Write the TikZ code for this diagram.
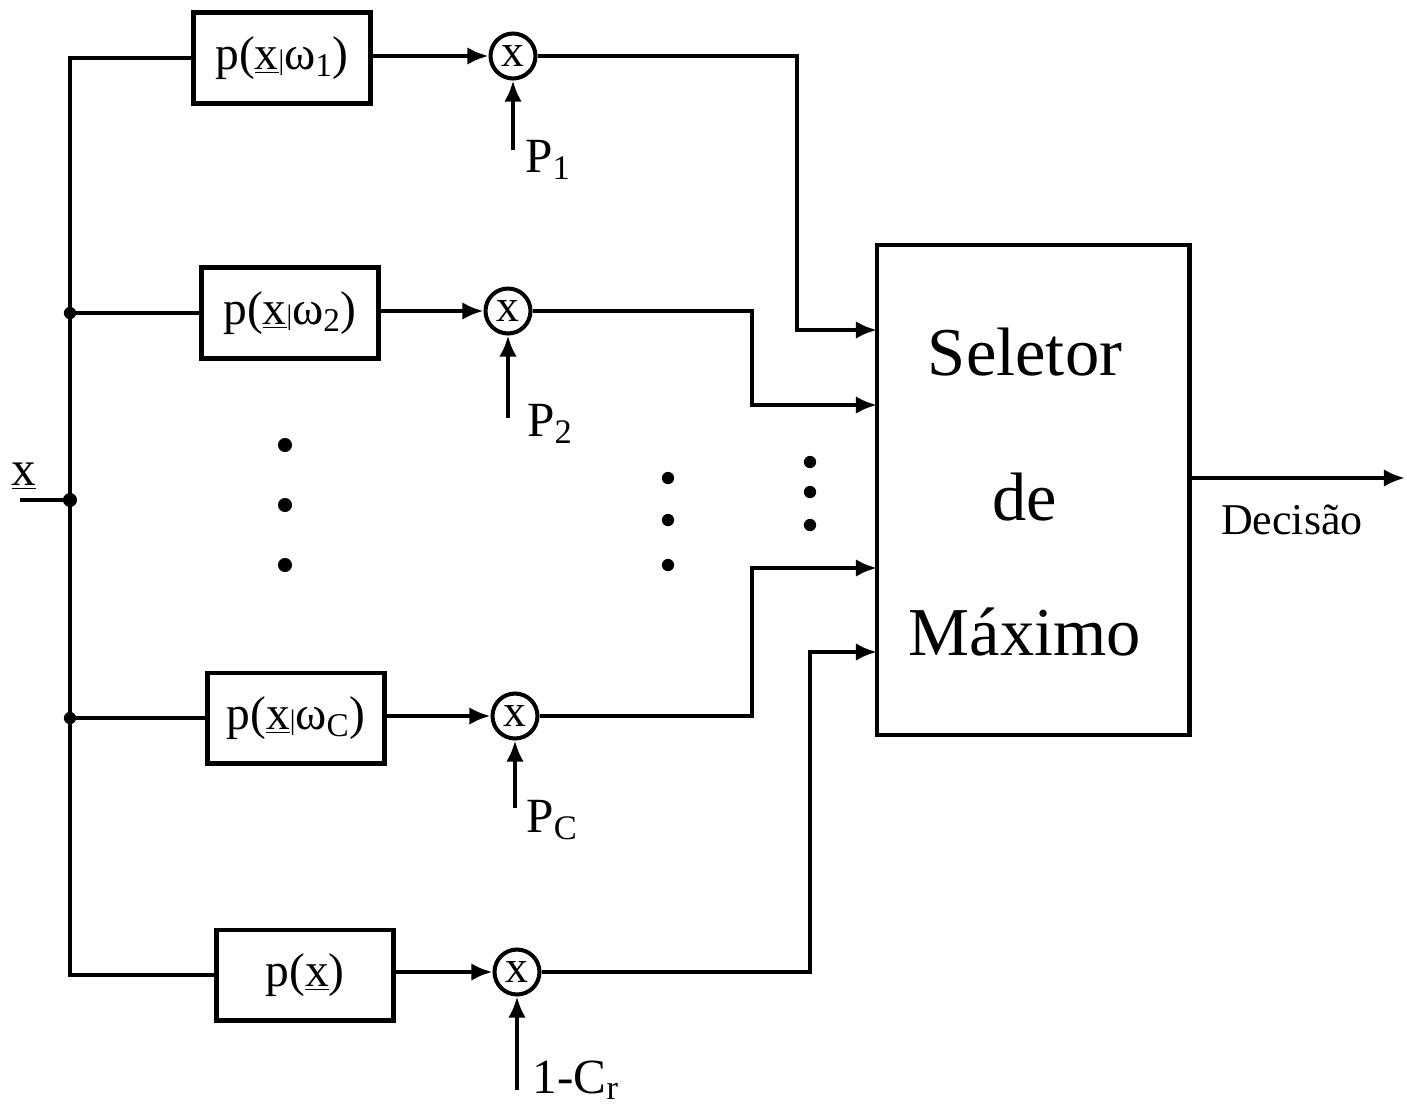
\documentclass[tikz,border=0pt]{standalone}
\usepackage{fontspec}
\setmainfont{Liberation Serif}
\usetikzlibrary{arrows.meta}
\tikzset{
  wire/.style={line width=2.3pt},
  arr/.style={wire, -{Latex[length=12pt,width=10pt]}},
  blk/.style={draw, line width=2.3pt, minimum width=3.54cm, minimum height=1.82cm, inner sep=0pt, font=\fontsize{27}{30}\selectfont},
  mult/.style={draw, circle, line width=2.3pt, minimum size=0.9cm, inner sep=0pt, font=\fontsize{26}{26}\selectfont},
  lbl/.style={inner sep=0pt, font=\fontsize{28}{30}\selectfont},
  big/.style={inner sep=0pt, font=\fontsize{39}{42}\selectfont},
}
\newcommand{\cond}[1]{p(\underline{x}{\fontsize{16}{16}\selectfont|}ω\textsubscript{#1})}
\begin{document}
\begin{tikzpicture}[x=0.02cm, y=-0.02cm]
        \useasboundingbox (0,0) rectangle (1407,1110);
        \node [blk] (b1) at (282,58) {\cond{1}};
        \node [blk] (b2) at (290,313) {\cond{2}};
        \node [blk] (bc) at (296,718) {\cond{C}};
        \node [blk] (br) at (305,975) {p(\underline{x})};
        \node [mult] (m1) at (513,56) {x};
        \node [mult] (m2) at (508,311) {x};
        \node [mult] (mc) at (515,716) {x};
        \node [mult] (mr) at (517,972) {x};
        \node [draw, line width=2.3pt, minimum width=6.26cm, minimum height=9.8cm] (sel) at (1033,490) {};
        \node [big] (t1) at (1025,352) {Seletor};
        \node [big] (t2) at (1025,497) {de};
        \node [big] (t3) at (1025,632) {Máximo};
        \coordinate (xin) at (20,500);
        \coordinate (jx) at (70,500);
        \coordinate (bt) at (70,58);
        \coordinate (bb) at (70,975);
        \coordinate (j2) at (70,313);
        \coordinate (jc) at (70,718);
        \coordinate (p1) at (513,150);
        \coordinate (p2) at (508,418);
        \coordinate (pc) at (515,808);
        \coordinate (pr) at (517,1090);
        \coordinate (s1) at (877,330);
        \coordinate (s2) at (877,405);
        \coordinate (s3) at (877,568);
        \coordinate (s4) at (877,652);
        \coordinate (o1) at (1190,478);
        \coordinate (o2) at (1405,478);
        \node [lbl] (xl) at (24,476) {\underline{x}};
        \node [lbl] (lp1) at (548,160) {P\textsubscript{1}};
        \node [lbl] (lp2) at (550,424) {P\textsubscript{2}};
        \node [lbl] (lpc) at (552,820) {P\textsubscript{C}};
        \node [lbl] (lpr) at (576,1080) {1-C\textsubscript{r}};
        \node [inner sep=0pt, font=\fontsize{25}{28}\selectfont] (dec) at (1292,520) {Decisão};
        \draw [wire] (xin) -- (jx);
        \draw [wire] (b1.west) -- (bt) -- (bb) -- (br.west);
        \draw [wire] (j2) -- (b2.west);
        \draw [wire] (jc) -- (bc.west);
        \fill (j2) circle (3.5pt) (jx) circle (4pt) (jc) circle (3.5pt);
        \draw [arr] (b1.east |- m1) -- (m1);
        \draw [arr] (b2.east |- m2) -- (m2);
        \draw [arr] (bc.east |- mc) -- (mc);
        \draw [arr] (br.east |- mr) -- (mr);
        \draw [arr] (p1) -- (m1);
        \draw [arr] (p2) -- (m2);
        \draw [arr] (pc) -- (mc);
        \draw [arr] (pr) -- (mr);
        \draw [arr] (m1) -| (797,330) -- (s1);
        \draw [arr] (m2) -| (752,405) -- (s2);
        \draw [arr] (mc) -| (752,568) -- (s3);
        \draw [arr] (mr) -| (810,652) -- (s4);
        \draw [arr] (o1) -- (o2);
        \foreach \y in {445,505,565} \fill (285,\y) circle (4pt);
        \foreach \y in {478,520,565} \fill (668,\y) circle (3.5pt);
        \foreach \y in {462,492,525} \fill (810,\y) circle (3.5pt);
    \end{tikzpicture}
\end{document}
